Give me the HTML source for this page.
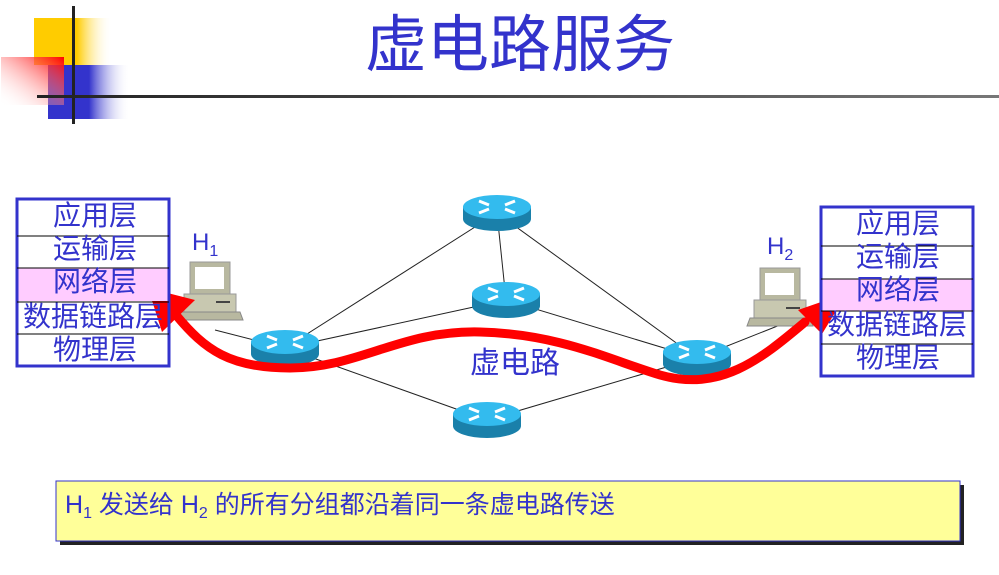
<!DOCTYPE html>
<html><head><meta charset="utf-8"><style>
body{margin:0;width:999px;height:575px;background:#fff;overflow:hidden;font-family:"Liberation Sans","Noto Sans CJK SC",sans-serif}
</style></head><body>
<svg width="999" height="575" viewBox="0 0 999 575" xmlns="http://www.w3.org/2000/svg" style="position:absolute;left:0;top:0">
<defs>
<linearGradient id="gy" x1="0" x2="1"><stop offset="0.55" stop-color="#ffcc00"/><stop offset="1" stop-color="#fff" stop-opacity="0"/></linearGradient>
<linearGradient id="gb" x1="0" x2="1"><stop offset="0.5" stop-color="#3333cc"/><stop offset="1" stop-color="#fff" stop-opacity="0"/></linearGradient>
<linearGradient id="gr" x1="1" y1="0" x2="0" y2="1"><stop offset="0" stop-color="#ff0000"/><stop offset="1" stop-color="#fff" stop-opacity="0"/></linearGradient>
<linearGradient id="gl" x1="0" x2="1"><stop offset="0" stop-color="#222"/><stop offset="1" stop-color="#777"/></linearGradient>
<g id="rt">
<path d="M-34,0 v12 a34,12 0 0 0 68,0 v-12 z" fill="#1a80aa"/>
<ellipse cx="0" cy="0" rx="34" ry="12" fill="#33bbee"/>
<path d="M-18,-6 l10,4 M18,-6 l-10,4 M-18,6 l10,-4 M18,6 l-10,-4" stroke="#fff" stroke-width="3"/>
</g>
<g id="pc">
<rect x="-20" y="0" width="40" height="32" fill="#b8b8a0" stroke="#999" stroke-width="1"/>
<rect x="-15" y="5" width="29" height="22" fill="#fff"/>
<rect x="-26" y="32" width="52" height="18" fill="#c8c8b0" stroke="#999" stroke-width="1"/>
<line x1="6" y1="40" x2="20" y2="40" stroke="#444" stroke-width="2"/>
<path d="M-30,50 h60 l3,8 h-66 z" fill="#b8b8a0" stroke="#888" stroke-width="1"/>
</g>
</defs>
<rect x="34" y="18" width="78" height="47" fill="url(#gy)"/>
<rect x="48" y="65" width="82" height="54" fill="url(#gb)"/>
<rect x="1" y="57" width="63" height="48" fill="url(#gr)"/>
<rect x="72" y="6" width="3" height="118" fill="#222"/>
<rect x="37" y="95" width="962" height="3" fill="url(#gl)"/>
<text x="520" y="66" font-size="62" fill="#3333cc" text-anchor="middle">虚电路服务</text>

<g stroke="#222" stroke-width="1">
<line x1="285" y1="348" x2="497" y2="213"/>
<line x1="285" y1="348" x2="506" y2="300"/>
<line x1="285" y1="348" x2="487" y2="420"/>
<line x1="497" y1="213" x2="697" y2="358"/>
<line x1="497" y1="213" x2="506" y2="300"/>
<line x1="506" y1="300" x2="697" y2="358"/>
<line x1="487" y1="420" x2="697" y2="358"/>
<line x1="215" y1="330" x2="285" y2="348"/>
<line x1="697" y1="358" x2="780" y2="325"/>
</g>
<use href="#pc" x="210" y="262"/>
<use href="#pc" x="780" y="268"/>
<use href="#rt" x="497" y="207"/>
<use href="#rt" x="506" y="294"/>
<use href="#rt" x="285" y="342"/>
<use href="#rt" x="697" y="352"/>
<use href="#rt" x="487" y="414"/>

<text x="192" y="250" font-size="24" fill="#3333cc">H<tspan font-size="16" dy="6">1</tspan></text>
<text x="767" y="254" font-size="24" fill="#3333cc">H<tspan font-size="16" dy="6">2</tspan></text>
<text x="515" y="373" font-size="30" fill="#3333cc" text-anchor="middle">虚电路</text>

<path d="M176,315 C205,350 230,368 290,368 C360,368 400,330 480,332 C560,334 610,360 660,375 C720,392 760,360 805,322" fill="none" stroke="#ff0000" stroke-width="9" stroke-linecap="round"/>
<path d="M148,288 L195,300 L162,332 z" fill="#ff0000"/>
<path d="M847,293 L822,334 L798,310 z" fill="#ff0000"/>

<g font-size="28" fill="#3333cc" text-anchor="middle">
<rect x="17" y="268" width="151" height="33" fill="#ffccff"/>
<rect x="17" y="199" width="152" height="167" fill="none" stroke="#3333cc" stroke-width="3"/>
<g stroke="#000" stroke-width="1"><line x1="17" y1="236" x2="169" y2="236"/><line x1="17" y1="268" x2="169" y2="268"/><line x1="17" y1="302" x2="169" y2="302"/><line x1="17" y1="334" x2="169" y2="334"/></g>
<text x="95" y="225">应用层</text><text x="95" y="258">运输层</text><text x="95" y="291">网络层</text><text x="93" y="326">数据链路层</text><text x="95" y="359">物理层</text>

<rect x="822" y="279" width="151" height="32" fill="#ffccff"/>
<rect x="821" y="207" width="152" height="169" fill="none" stroke="#3333cc" stroke-width="3"/>
<g stroke="#000" stroke-width="1"><line x1="821" y1="246" x2="973" y2="246"/><line x1="821" y1="279" x2="973" y2="279"/><line x1="821" y1="311" x2="973" y2="311"/><line x1="821" y1="344" x2="973" y2="344"/></g>
<text x="898" y="233">应用层</text><text x="898" y="266">运输层</text><text x="898" y="299">网络层</text><text x="897" y="334">数据链路层</text><text x="898" y="367">物理层</text>
</g>

<rect x="60" y="485" width="904" height="60" fill="#222"/>
<rect x="56" y="481" width="904" height="60" fill="#ffff99" stroke="#3333cc" stroke-width="1"/>
<text x="65" y="513" font-size="25" fill="#3333cc">H<tspan font-size="16" dy="5">1</tspan><tspan dy="-5"> 发送给 H</tspan><tspan font-size="16" dy="5">2</tspan><tspan dy="-5"> 的所有分组都沿着同一条虚电路传送</tspan></text>
</svg>
</body></html>
